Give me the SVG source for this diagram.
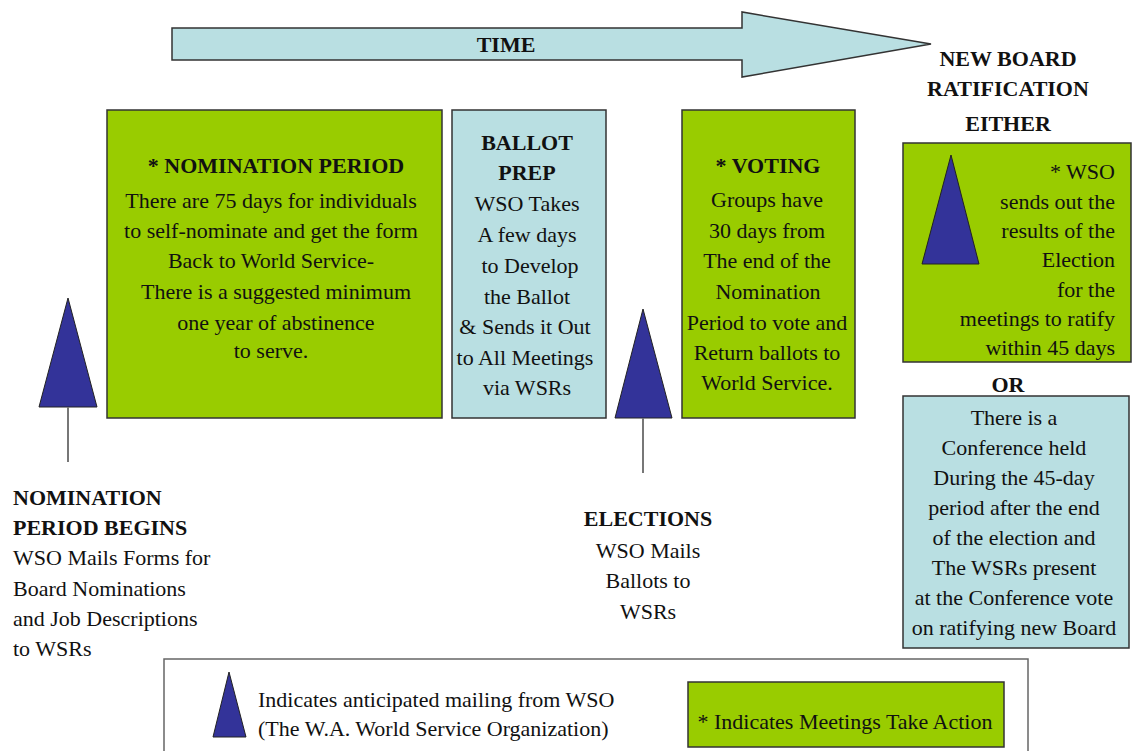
<svg xmlns="http://www.w3.org/2000/svg" width="1133" height="751" viewBox="0 0 1133 751">
<style>
text{font-size:22px;fill:#111;}
.b{font-weight:bold;}
.c{text-anchor:middle;}
.e{text-anchor:end;}
.green{fill:#99cc00;stroke:#333;stroke-width:1.5;}
.blue{fill:#b9dfe2;stroke:#333;stroke-width:1.5;}
.tri{fill:#333399;stroke:#222;stroke-width:1;}
.ln{stroke:#777;stroke-width:2;fill:none;}
</style>
<rect width="1133" height="751" fill="#fff"/>
<g font-family="Liberation Serif, serif">
<g id="time-arrow">
<polygon points="172,28 742,28 742,12 931,44 742,77 742,60 172,60" fill="#b9dfe2" stroke="#333" stroke-width="1.5"/>
<text x="506" y="52" class="b c" font-size="20">TIME</text>
</g>

<g id="new-board-title">
<text x="1008" y="66" class="b c">NEW BOARD</text>
<text x="1008" y="96" class="b c">RATIFICATION</text>
<text x="1008" y="131" class="b c">EITHER</text>
</g>

<g id="nomination-period">
<rect x="107" y="110" width="335" height="308" class="green"/>
<text x="276" y="173" class="b c">* NOMINATION PERIOD</text>
<text x="271" y="208" class="c">There are 75 days for individuals</text>
<text x="271" y="238" class="c">to self-nominate and get the form</text>
<text x="271" y="268" class="c">Back to World Service-</text>
<text x="276" y="299" class="c">There is a suggested minimum</text>
<text x="276" y="330" class="c">one year of abstinence</text>
<text x="271" y="358" class="c">to serve.</text>
</g>

<g id="ballot-prep">
<rect x="452" y="110" width="154" height="308" class="blue"/>
<text x="527" y="150" class="b c">BALLOT</text>
<text x="527" y="180" class="b c">PREP</text>
<text x="527" y="211" class="c">WSO Takes</text>
<text x="527" y="242" class="c">A few days</text>
<text x="530" y="273" class="c">to Develop</text>
<text x="527" y="304" class="c">the Ballot</text>
<text x="525" y="334" class="c">&amp; Sends it Out</text>
<text x="525" y="365" class="c">to All Meetings</text>
<text x="527" y="395" class="c">via WSRs</text>
</g>

<g id="voting">
<rect x="682" y="110" width="173" height="308" class="green"/>
<text x="768" y="173" class="b c">* VOTING</text>
<text x="767" y="207" class="c">Groups have</text>
<text x="767" y="238" class="c">30 days from</text>
<text x="767" y="268" class="c">The end of the</text>
<text x="768" y="299" class="c">Nomination</text>
<text x="767" y="330" class="c">Period to vote and</text>
<text x="767" y="360" class="c">Return ballots to</text>
<text x="767" y="390" class="c">World Service.</text>
</g>

<g id="ratify-results">
<rect x="903" y="143" width="228" height="219" class="green"/>
<polygon points="951,155 979,264 922,264" class="tri"/>
<text x="1115" y="179" class="e">* WSO</text>
<text x="1115" y="209" class="e">sends out the</text>
<text x="1115" y="238" class="e">results of the</text>
<text x="1115" y="267" class="e">Election</text>
<text x="1115" y="297" class="e">for the</text>
<text x="1115" y="326" class="e">meetings to ratify</text>
<text x="1115" y="355" class="e">within 45 days</text>
</g>

<g id="or-label">
<text x="1008" y="392" class="b c">OR</text>
</g>

<g id="conference">
<rect x="903" y="396" width="226" height="252" class="blue"/>
<text x="1014" y="425" class="c">There is a</text>
<text x="1014" y="455" class="c">Conference held</text>
<text x="1014" y="485" class="c">During the 45-day</text>
<text x="1014" y="515" class="c">period after the end</text>
<text x="1014" y="545" class="c">of the election and</text>
<text x="1014" y="575" class="c">The WSRs present</text>
<text x="1014" y="605" class="c">at the Conference vote</text>
<text x="1014" y="635" class="c">on ratifying new Board</text>
</g>

<g id="nomination-begins">
<polygon points="68,298 97,407 39,407" class="tri"/>
<text x="13" y="505" class="b">NOMINATION</text>
<text x="13" y="535" class="b">PERIOD BEGINS</text>
<text x="13" y="565">WSO Mails Forms for</text>
<text x="13" y="596">Board Nominations</text>
<text x="13" y="626">and Job Descriptions</text>
<text x="13" y="656">to WSRs</text>
</g>

<g id="elections">
<polygon points="643,309 672,418 615,418" class="tri"/>
<text x="648" y="526" class="b c">ELECTIONS</text>
<text x="648" y="558" class="c">WSO Mails</text>
<text x="648" y="588" class="c">Ballots  to</text>
<text x="648" y="619" class="c">WSRs</text>
</g>

<g id="connectors">
<line x1="68" y1="407" x2="68" y2="462" class="ln"/>
<line x1="643" y1="418" x2="643" y2="473" class="ln"/>
</g>

<g id="legend">
<rect x="164" y="659" width="864" height="100" fill="#fff" stroke="#666" stroke-width="1.5"/>
<polygon points="229,672 246,737 213,737" class="tri"/>
<text x="258" y="707" font-size="23">Indicates anticipated mailing from WSO</text>
<text x="258" y="736" font-size="23">(The W.A. World Service Organization)</text>
<rect x="688" y="682" width="316" height="65" class="green"/>
<text x="845" y="729" class="c">* Indicates Meetings Take Action</text>
</g>
</g>
</svg>
